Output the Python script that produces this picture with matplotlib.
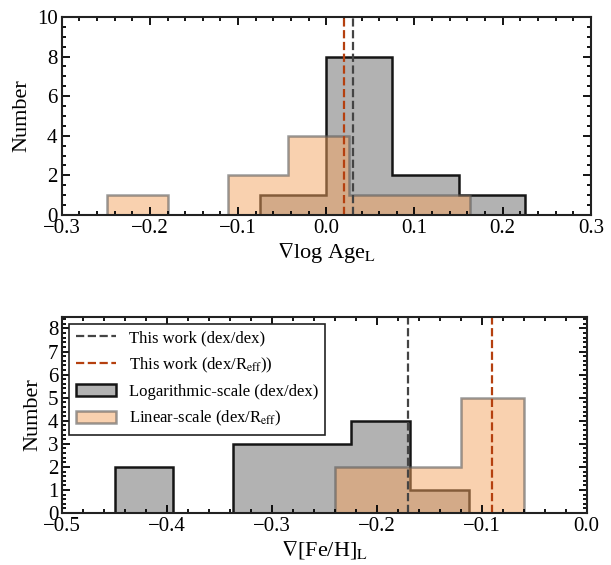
import matplotlib
matplotlib.use('Agg')
import matplotlib.pyplot as plt
from matplotlib.ticker import MultipleLocator

plt.rcParams['font.family'] = ['Liberation Serif', 'DejaVu Serif']
plt.rcParams['mathtext.fontset'] = 'stix'
plt.rcParams['axes.unicode_minus'] = True

# gradient histograms (bin edges and counts)
age_log_edges = [-0.075, 0.0, 0.075, 0.15, 0.225]
age_log_counts = [1, 8, 2, 1]
age_lin_edges = [-0.249, -0.180, -0.112, -0.043, 0.026, 0.094, 0.163]
age_lin_counts = [1, 0, 2, 4, 1, 1]

feh_log_edges = [-0.450, -0.394, -0.337, -0.281, -0.225, -0.168, -0.112]
feh_log_counts = [2, 0, 3, 3, 4, 1]
feh_lin_edges = [-0.240, -0.180, -0.120, -0.060]
feh_lin_counts = [2, 2, 5]

# this work values
age_this_log = 0.03
age_this_lin = 0.02
feh_this_log = -0.17
feh_this_lin = -0.09

gray_face = (0.5, 0.5, 0.5, 0.6)
gray_edge = (0.0, 0.0, 0.0, 0.9)
orange_face = (0.957, 0.643, 0.376, 0.5)
orange_edge = (0.35, 0.35, 0.35, 0.6)
line_gray = '#444444'
line_orange = '#b5400f'

fig = plt.figure(figsize=(6.11, 5.65), dpi=100)
ax1 = fig.add_axes([0.101, 0.6195, 0.866, 0.3505])
ax2 = fig.add_axes([0.102, 0.092, 0.858, 0.347])


def style(ax, xmaj, xmin, ymaj, ymin):
    ax.xaxis.set_major_locator(MultipleLocator(xmaj))
    ax.xaxis.set_minor_locator(MultipleLocator(xmin))
    ax.yaxis.set_major_locator(MultipleLocator(ymaj))
    ax.yaxis.set_minor_locator(MultipleLocator(ymin))
    ax.tick_params(which='both', direction='in', top=True, right=True,
                   labelsize=15, pad=3, width=1.3)
    ax.tick_params(which='major', length=6)
    ax.tick_params(which='minor', length=3)
    for s in ax.spines.values():
        s.set_linewidth(1.5)
        s.set_color('#222222')


# top panel: age gradients
ax1.stairs(age_log_counts, age_log_edges, fill=True, facecolor=gray_face,
           edgecolor=gray_edge, linewidth=1.8)
ax1.stairs(age_lin_counts, age_lin_edges, fill=True, facecolor=orange_face,
           edgecolor=orange_edge, linewidth=1.8)
ax1.axvline(age_this_log, color=line_gray, ls='--', lw=1.6)
ax1.axvline(age_this_lin, color=line_orange, ls='--', lw=1.6)
ax1.set_xlim(-0.3, 0.3)
ax1.set_ylim(0, 10)
style(ax1, 0.1, 0.02, 2, 0.5)
ax1.set_xlabel(r'$\nabla$log Age$_{\rm L}$', fontsize=16, labelpad=2)
ax1.set_ylabel('Number', fontsize=16)

# bottom panel: metallicity gradients
h_log = ax2.stairs(feh_log_counts, feh_log_edges, fill=True, facecolor=gray_face,
                   edgecolor=gray_edge, linewidth=1.8,
                   label='Logarithmic-scale (dex/dex)')
h_lin = ax2.stairs(feh_lin_counts, feh_lin_edges, fill=True, facecolor=orange_face,
                   edgecolor=orange_edge, linewidth=1.8,
                   label=r'Linear-scale (dex/R$_{\rm eff}$)')
l_log = ax2.axvline(feh_this_log, color=line_gray, ls='--', lw=1.6,
                    label='This work (dex/dex)')
l_lin = ax2.axvline(feh_this_lin, color=line_orange, ls='--', lw=1.6,
                    label=r'This work (dex/R$_{\rm eff}$))')
ax2.set_xlim(-0.5, 0.0)
ax2.set_ylim(0, 8.5)
style(ax2, 0.1, 0.02, 1, 0.2)
ax2.set_xlabel(r'$\nabla$[Fe/H]$_{\rm L}$', fontsize=16, labelpad=2)
ax2.set_ylabel('Number', fontsize=16)

leg = ax2.legend(handles=[l_log, l_lin, h_log, h_lin], loc='upper left',
                 fontsize=12, fancybox=False, framealpha=1, edgecolor='#222222',
                 borderaxespad=0.4, handlelength=2.4, labelspacing=0.55)
leg.get_frame().set_linewidth(1.2)

fig.savefig('out.png', dpi=100)
